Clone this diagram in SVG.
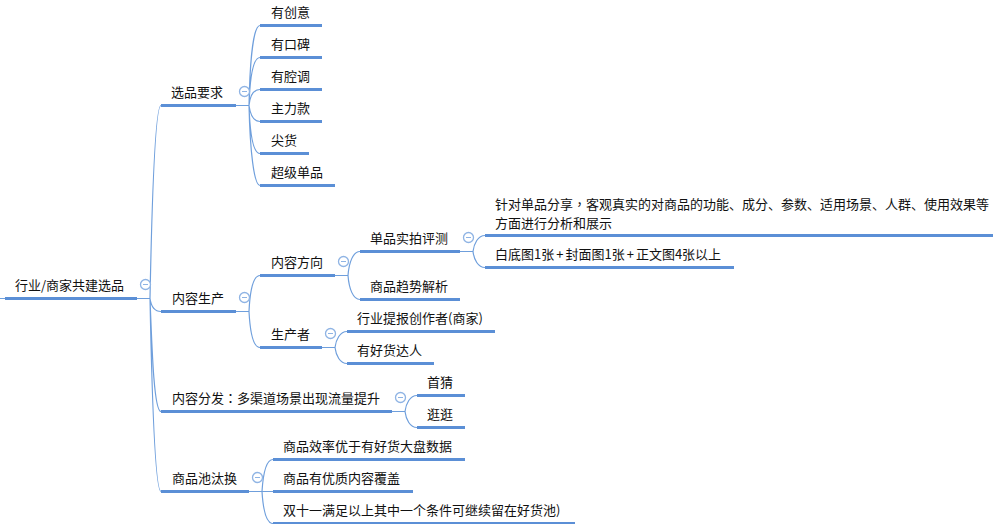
<svg xmlns="http://www.w3.org/2000/svg" width="993" height="524" viewBox="0 0 993 524">
<style>
text{font-family:"Noto Sans CJK SC","Noto Sans",sans-serif;font-size:13px;fill:#111}
.p{font-family:"Noto Sans CJK TC","Noto Sans",sans-serif}
.u{stroke:#5b8fd6;stroke-width:3;fill:none}
.c{stroke:#6f9fdc;stroke-width:1.2;fill:none}
.t{stroke:#6f9fdc;stroke-width:1;fill:none}
.b circle{fill:#fff;stroke:#8fb4e4;stroke-width:1.3}
.b path{stroke:#8fb4e4;stroke-width:1;fill:none}
</style>
<rect width="993" height="524" fill="#fff"/>
<g id="connectors">
<path class="t" d="M0 298.500H5M137 298.500H150M236 105.500H249M236 311.500H249M335 275.500H348M322 347.500H335M460 251.500H473M392 411.500H405M249 491.500H262"/>
<g transform="translate(0 .5)">
<path class="c" d="M150 298C152 195 155 105 161 105M150 298C151 305 154 311 161 311M150 298C152 350 154 411 161 411M150 298C152 400 155 491 161 491"/>
<path class="c" d="M249 105C250 55 254 25 260 25M249 105C250 75 253 57 260 57M249 105C250 95 253 89 260 89M249 105C250 112 253 121 260 121M249 105C250 135 253 153 260 153M249 105C250 150 254 185 260 185"/>
<path class="c" d="M249 311C250 290 253 275 260 275M249 311C250 330 253 347 260 347"/>
<path class="c" d="M348 275C349 262 353 251 360 251M348 275C349 288 353 299 360 299"/>
<path class="c" d="M473 251C474 243 478 235 485 235M473 251C474 259 478 267 485 267"/>
<path class="c" d="M335 347C336 339 340 331 347 331M335 347C336 355 340 363 347 363"/>
<path class="c" d="M405 411C406 403 410 395 417 395M405 411C406 419 410 427 417 427"/>
<path class="c" d="M262 491C263 475 266 459 273 459M262 491H273M262 491C263 507 266 523 273 523"/>
<path class="u" d="M5 298H137M161 105H236M260 25H322M260 57H322M260 89H322M260 121H322M260 153H309M260 185H335M161 311H236M260 275H335M260 347H322M360 251H460M360 299H460M485 235H993M485 267H734M347 331H495M347 363H434M161 411H392M417 395H465M417 427H465M161 491H249M273 459H465M273 491H413M273 523H575"/>
</g>
</g>
<g id="root"><text x="15" y="290">行业/商家共建选品</text><g class="b"><circle cx="145.500" cy="284.500" r="5"/><path d="M143 284.500H148"/></g></g>
<g id="n1"><text x="171" y="97">选品要求</text><g class="b"><circle cx="244.500" cy="91.500" r="5"/><path d="M242 91.500H247"/></g></g>
<g id="n1a"><text x="271" y="17">有创意</text></g>
<g id="n1b"><text x="271" y="49">有口碑</text></g>
<g id="n1c"><text x="271" y="81">有腔调</text></g>
<g id="n1d"><text x="271" y="113">主力款</text></g>
<g id="n1e"><text x="271" y="145">尖货</text></g>
<g id="n1f"><text x="271" y="177">超级单品</text></g>
<g id="n2"><text x="172" y="303">内容生产</text><g class="b"><circle cx="244.500" cy="297.500" r="5"/><path d="M242 297.500H247"/></g></g>
<g id="n2a"><text x="271" y="267">内容方向</text><g class="b"><circle cx="343.500" cy="261.500" r="5"/><path d="M341 261.500H346"/></g></g>
<g id="n2a1"><text x="370" y="243">单品实拍评测</text><g class="b"><circle cx="468.500" cy="237.500" r="5"/><path d="M466 237.500H471"/></g></g>
<g id="n2a1a"><text x="495" y="209">针对单品分享<tspan class="p">，</tspan>客观真实的对商品的功能、成分、参数、适用场景、人群、使用效果等</text><text x="495" y="227.500">方面进行分析和展示</text></g>
<g id="n2a1b"><text x="495" y="259">白底图1张<tspan dx="2">+</tspan><tspan dx="2">封面图1张</tspan><tspan dx="2">+</tspan><tspan dx="2">正文图4张以上</tspan></text></g>
<g id="n2a2"><text x="370" y="291">商品趋势解析</text></g>
<g id="n2b"><text x="271" y="339">生产者</text><g class="b"><circle cx="330.500" cy="333.500" r="5"/><path d="M328 333.500H333"/></g></g>
<g id="n2b1"><text x="357" y="323">行业提报创作者(商家)</text></g>
<g id="n2b2"><text x="357" y="355">有好货达人</text></g>
<g id="n3"><text x="172" y="403">内容分发<tspan class="p">：</tspan>多渠道场景出现流量提升</text><g class="b"><circle cx="400.500" cy="397.500" r="5"/><path d="M398 397.500H403"/></g></g>
<g id="n3a"><text x="427" y="387">首猜</text></g>
<g id="n3b"><text x="427" y="419">逛逛</text></g>
<g id="n4"><text x="172" y="483">商品池汰换</text><g class="b"><circle cx="257.500" cy="477.500" r="5"/><path d="M255 477.500H260"/></g></g>
<g id="n4a"><text x="283" y="451">商品效率优于有好货大盘数据</text></g>
<g id="n4b"><text x="283" y="483">商品有优质内容覆盖</text></g>
<g id="n4c"><text x="283" y="515">双十一满足以上其中一个条件可继续留在好货池)</text></g>
</svg>
